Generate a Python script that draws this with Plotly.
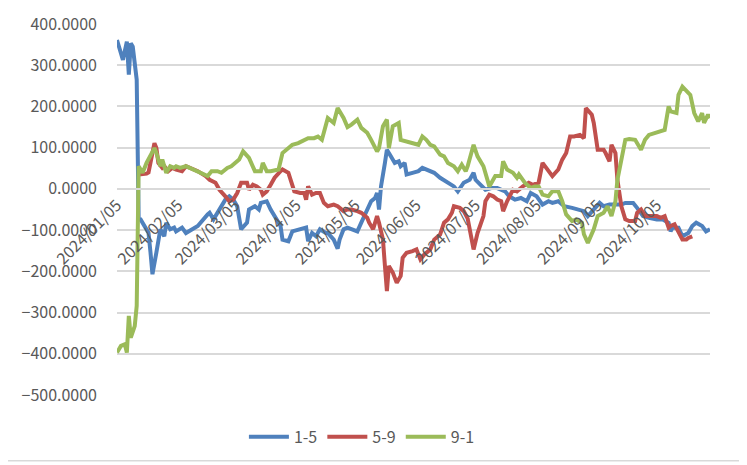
import plotly.graph_objects as go

# ---- data ----
dates_15 = ["2024-01-05","2024-01-08","2024-01-10","2024-01-11","2024-01-12","2024-01-13","2024-01-15","2024-01-16",
            "2024-01-17","2024-01-18","2024-01-21","2024-01-22","2024-01-23","2024-01-25","2024-01-27","2024-01-29",
            "2024-01-30","2024-02-01","2024-02-03","2024-02-04","2024-02-07","2024-02-09","2024-02-15","2024-02-20",
            "2024-02-21","2024-02-23","2024-02-26","2024-02-29","2024-03-02","2024-03-04","2024-03-06","2024-03-08",
            "2024-03-11","2024-03-12","2024-03-15","2024-03-17","2024-03-18","2024-03-21","2024-03-23","2024-03-25",
            "2024-03-28","2024-03-29","2024-04-01","2024-04-03","2024-04-08","2024-04-10","2024-04-11","2024-04-13",
            "2024-04-15","2024-04-17","2024-04-20","2024-04-21","2024-04-24","2024-04-26","2024-04-27","2024-04-29",
            "2024-05-01","2024-05-04","2024-05-06","2024-05-08","2024-05-11","2024-05-13","2024-05-15","2024-05-16",
            "2024-05-17","2024-05-18","2024-05-20","2024-05-21","2024-05-23","2024-05-25","2024-05-27","2024-05-28",
            "2024-05-30","2024-05-31","2024-06-03","2024-06-06","2024-06-08","2024-06-12","2024-06-14","2024-06-17",
            "2024-06-20","2024-06-24","2024-06-26","2024-06-28","2024-06-29","2024-07-02","2024-07-04","2024-07-05",
            "2024-07-08","2024-07-10","2024-07-13","2024-07-16","2024-07-20","2024-07-22","2024-07-25","2024-07-28",
            "2024-07-31","2024-08-02","2024-08-05","2024-08-08","2024-08-11","2024-08-13","2024-08-16","2024-08-19",
            "2024-08-23","2024-08-26","2024-08-29","2024-08-31","2024-09-03","2024-09-06","2024-09-08","2024-09-11",
            "2024-09-14","2024-09-17","2024-09-19","2024-09-23","2024-09-25","2024-09-28","2024-10-01","2024-10-05",
            "2024-10-08","2024-10-11","2024-10-12","2024-10-13","2024-10-16","2024-10-18","2024-10-21","2024-10-23",
            "2024-10-25","2024-10-28","2024-10-30","2024-11-01"]
vals_15 = [361, 313, 357, 277, 353, 345, 265, -74,
           -74, -82, -107, -154, -207, -154, -98, -115,
           -82, -98, -94, -103, -94, -107, -90, -62,
           -58, -74, -50, -26, -18, -26, -42, -98,
           -82, -50, -42, -50, -34, -30, -50, -66,
           -90, -123, -127, -103, -98, -94, -127, -107,
           -115, -98, -107, -107, -123, -145, -123, -98,
           -94, -98, -103, -82, -50, -30, -22, -10,
           -50, 6, 63, 95, 79, 63, 67, 55,
           63, 35, 39, 43, 51, 43, 39, 27,
           18, 6, -6, 10, 15, 22, 39, 22,
           6, -2, 2, 2, -6, -18, -26, -22,
           -30, -10, -18, -38, -30, -34, -30, -42,
           -46, -50, -54, -66, -50, -34, -42, -38,
           -38, -38, -34, -34, -46, -66, -70, -74,
           -74, -82, -103, -94, -94, -115, -107, -90,
           -82, -90, -103, -98]

dates_59 = ["2024-01-16","2024-01-18","2024-01-20","2024-01-21","2024-01-23","2024-01-24","2024-01-25","2024-01-26",
            "2024-01-28","2024-01-29","2024-01-31","2024-02-02","2024-02-04","2024-02-07","2024-02-09","2024-02-11",
            "2024-02-15","2024-02-19","2024-02-21","2024-02-24","2024-02-26","2024-02-29","2024-03-02","2024-03-04",
            "2024-03-06","2024-03-08","2024-03-11","2024-03-12","2024-03-14","2024-03-16","2024-03-18","2024-03-19",
            "2024-03-21","2024-03-23","2024-03-25","2024-03-28","2024-03-29","2024-04-01","2024-04-03","2024-04-04",
            "2024-04-07","2024-04-09","2024-04-10","2024-04-11","2024-04-13","2024-04-15","2024-04-17","2024-04-19",
            "2024-04-21","2024-04-24","2024-04-26","2024-04-29","2024-05-01","2024-05-03","2024-05-06","2024-05-08",
            "2024-05-11","2024-05-12","2024-05-14","2024-05-16","2024-05-17","2024-05-19","2024-05-20","2024-05-21",
            "2024-05-22","2024-05-24","2024-05-26","2024-05-28","2024-05-29","2024-05-31","2024-06-03","2024-06-05",
            "2024-06-07","2024-06-09","2024-06-12","2024-06-14","2024-06-17","2024-06-19","2024-06-21","2024-06-23",
            "2024-06-24","2024-06-27","2024-06-29","2024-07-01","2024-07-04","2024-07-06","2024-07-09","2024-07-10",
            "2024-07-12","2024-07-14","2024-07-16","2024-07-18","2024-07-19","2024-07-21","2024-07-24","2024-07-26",
            "2024-07-29","2024-08-01","2024-08-03","2024-08-06","2024-08-08","2024-08-11","2024-08-13","2024-08-16",
            "2024-08-18","2024-08-20","2024-08-22","2024-08-24","2024-08-27","2024-08-29","2024-08-30","2024-09-02",
            "2024-09-03","2024-09-05","2024-09-08","2024-09-09","2024-09-11","2024-09-12","2024-09-14","2024-09-15",
            "2024-09-17","2024-09-19","2024-09-21","2024-09-24","2024-09-25","2024-09-27","2024-09-29","2024-10-02",
            "2024-10-05","2024-10-07","2024-10-09","2024-10-11","2024-10-12","2024-10-14","2024-10-16","2024-10-18",
            "2024-10-20","2024-10-21","2024-10-23"]
vals_59 = [35, 35, 37, 40, 95, 111, 99, 63,
           51, 55, 43, 51, 47, 43, 55, 51,
           43, 31, 22, 15, -2, -18, -30, -26,
           -10, 15, 15, -2, 10, 6, -2, -14,
           -6, 10, 27, 43, 47, 39, 6, -6,
           -10, -10, -26, 6, -14, -10, -10, -34,
           -42, -38, -42, -54, -50, -50, -54, -58,
           -70, -82, -98, -66, -82, -123, -187, -248,
           -187, -203, -228, -211, -167, -155, -151, -147,
           -171, -159, -147, -123, -111, -82, -74, -58,
           -42, -46, -54, -72, -147, -107, -66, -30,
           -14, -18, -26, -30, -54, -30, -2, -6,
           6, 15, 10, 15, 63, 43, 31, 47,
           71, 87, 127, 127, 131, 123, 196, 180,
           160, 95, 95, 87, 67, 107, 87, 22,
           -42, -74, -78, -78, -58, -50, -66, -66,
           -66, -70, -66, -94, -90, -86, -107, -123,
           -123, -119, -115]

dates_91 = ["2024-01-05","2024-01-07","2024-01-09","2024-01-10","2024-01-11","2024-01-12","2024-01-14","2024-01-15",
            "2024-01-16","2024-01-18","2024-01-20","2024-01-23","2024-01-24","2024-01-25","2024-01-27","2024-01-28",
            "2024-01-30","2024-02-01","2024-02-03","2024-02-04","2024-02-06","2024-02-09","2024-02-13","2024-02-16",
            "2024-02-20","2024-02-22","2024-02-25","2024-02-27","2024-03-01","2024-03-03","2024-03-07","2024-03-09",
            "2024-03-11","2024-03-12","2024-03-15","2024-03-18","2024-03-19","2024-03-21","2024-03-23","2024-03-27",
            "2024-03-29","2024-03-31","2024-04-03","2024-04-06","2024-04-09","2024-04-11","2024-04-14","2024-04-16",
            "2024-04-18","2024-04-20","2024-04-21","2024-04-24","2024-04-26","2024-04-29","2024-05-01","2024-05-03",
            "2024-05-06","2024-05-08","2024-05-11","2024-05-13","2024-05-16","2024-05-17","2024-05-19","2024-05-21",
            "2024-05-22","2024-05-24","2024-05-27","2024-05-28","2024-05-31","2024-06-03","2024-06-06","2024-06-08",
            "2024-06-10","2024-06-12","2024-06-14","2024-06-17","2024-06-19","2024-06-21","2024-06-24","2024-06-26",
            "2024-06-28","2024-06-30","2024-07-01","2024-07-04","2024-07-06","2024-07-09","2024-07-10","2024-07-12",
            "2024-07-15","2024-07-18","2024-07-19","2024-07-21","2024-07-24","2024-07-26","2024-07-27","2024-07-30",
            "2024-08-02","2024-08-04","2024-08-06","2024-08-08","2024-08-11","2024-08-13","2024-08-16","2024-08-18",
            "2024-08-20","2024-08-23","2024-08-25","2024-08-28","2024-08-29","2024-08-31","2024-09-03","2024-09-05",
            "2024-09-08","2024-09-10","2024-09-12","2024-09-14","2024-09-15","2024-09-17","2024-09-19","2024-09-21",
            "2024-09-24","2024-09-27","2024-09-29","2024-10-01","2024-10-05","2024-10-09","2024-10-11","2024-10-12",
            "2024-10-15","2024-10-16","2024-10-18","2024-10-22","2024-10-24","2024-10-26","2024-10-28","2024-10-29",
            "2024-10-31","2024-11-01"]
vals_91 = [-397, -381, -377, -397, -308, -361, -333, -284,
           55, 39, 63, 91, 99, 87, 55, 71,
           39, 55, 51, 55, 51, 55, 47, 39,
           31, 43, 43, 39, 51, 55, 71, 91,
           79, 75, 43, 43, 63, 43, 43, 47,
           87, 95, 107, 111, 119, 123, 123, 127,
           119, 160, 172, 160, 196, 172, 150, 156,
           168, 148, 136, 119, 91, 99, 152, 168,
           99, 152, 160, 119, 115, 111, 107, 127,
           119, 107, 103, 83, 79, 63, 55, 43,
           59, 43, 55, 107, 79, 55, 39, 6,
           31, 31, 67, 47, 39, 27, 35, 15,
           2, 6, 6, -14, -18, -6, -6, -30,
           -62, -78, -74, -82, -110, -131, -98, -66,
           -58, -42, -66, -30, 22, 71, 119, 121,
           119, 95, 119, 131, 137, 143, 200, 188,
           184, 228, 248, 228, 184, 164, 184, 160,
           180, 172]

series_names = ["1-5", "5-9", "9-1"]
series_colors = ["#4F81BD", "#C0504D", "#9BBB59"]
tick_dates = ["2024-01-05", "2024-02-05", "2024-03-05", "2024-04-05", "2024-05-05",
              "2024-06-05", "2024-07-05", "2024-08-05", "2024-09-05", "2024-10-05"]
y_ticks = [400, 300, 200, 100, 0, -100, -200, -300, -400, -500]

FONT = "Noto Sans CJK SC, Noto Sans, sans-serif"
GREY = "#595959"
FS = 16

# page has an 8px body margin; figure is sized so the plot area lands at
# x 117..710, y 24..396 in the 747x465 window
W, H = 739, 457
ML, MR, MT, MB = 109, 37, 16, 69
PW, PH = W - ML - MR, H - MT - MB

fig = go.Figure()
for name, xs, ys, col in zip(series_names, [dates_15, dates_59, dates_91],
                             [vals_15, vals_59, vals_91], series_colors):
    fig.add_trace(go.Scatter(x=xs, y=ys, mode="lines", name=name,
                             line=dict(color=col, width=4)))

fig.update_layout(
    width=W, height=H,
    margin=dict(l=ML, r=MR, t=MT, b=MB),
    paper_bgcolor="white", plot_bgcolor="white",
    font=dict(family=FONT, size=FS, color=GREY),
    showlegend=True,
    legend=dict(orientation="h", x=0.413, xanchor="center", y=-0.11, yanchor="middle",
                font=dict(size=FS, color=GREY), itemwidth=40, tracegroupgap=0),
    xaxis=dict(type="date", range=["2024-01-05", "2024-11-01"],
               tickvals=tick_dates, ticktext=[d.replace("-", "/") for d in tick_dates],
               tickangle=-45, showgrid=False, showline=True, linecolor="#D9D9D9", linewidth=1.5,
               ticks="", anchor="free", position=500/900, automargin=False,
               tickfont=dict(size=FS, color=GREY)),
    yaxis=dict(range=[-500, 400], tickvals=y_ticks, tickformat=".4f",
               showgrid=True, gridcolor="#D9D9D9", gridwidth=1.5, zeroline=False,
               showline=False, ticks="", automargin=False, ticklabelstandoff=19,
               tickfont=dict(size=FS, color=GREY)),
    shapes=[
        # right and bottom edges of the chart-area border
        dict(type="line", xref="paper", yref="paper",
             x0=(W - 4 - ML) / PW, x1=(W - 4 - ML) / PW,
             y0=(PH + MB - (H - 1.5)) / PH, y1=(PH + MB) / PH,
             line=dict(color="#D9D9D9", width=1.5)),
        dict(type="line", xref="paper", yref="paper",
             x0=-ML / PW, x1=(W - 4 - ML) / PW,
             y0=-(MB - 3) / PH, y1=-(MB - 3) / PH,
             line=dict(color="#D9D9D9", width=1.5)),
    ],
)

fig.write_html("out.html")
